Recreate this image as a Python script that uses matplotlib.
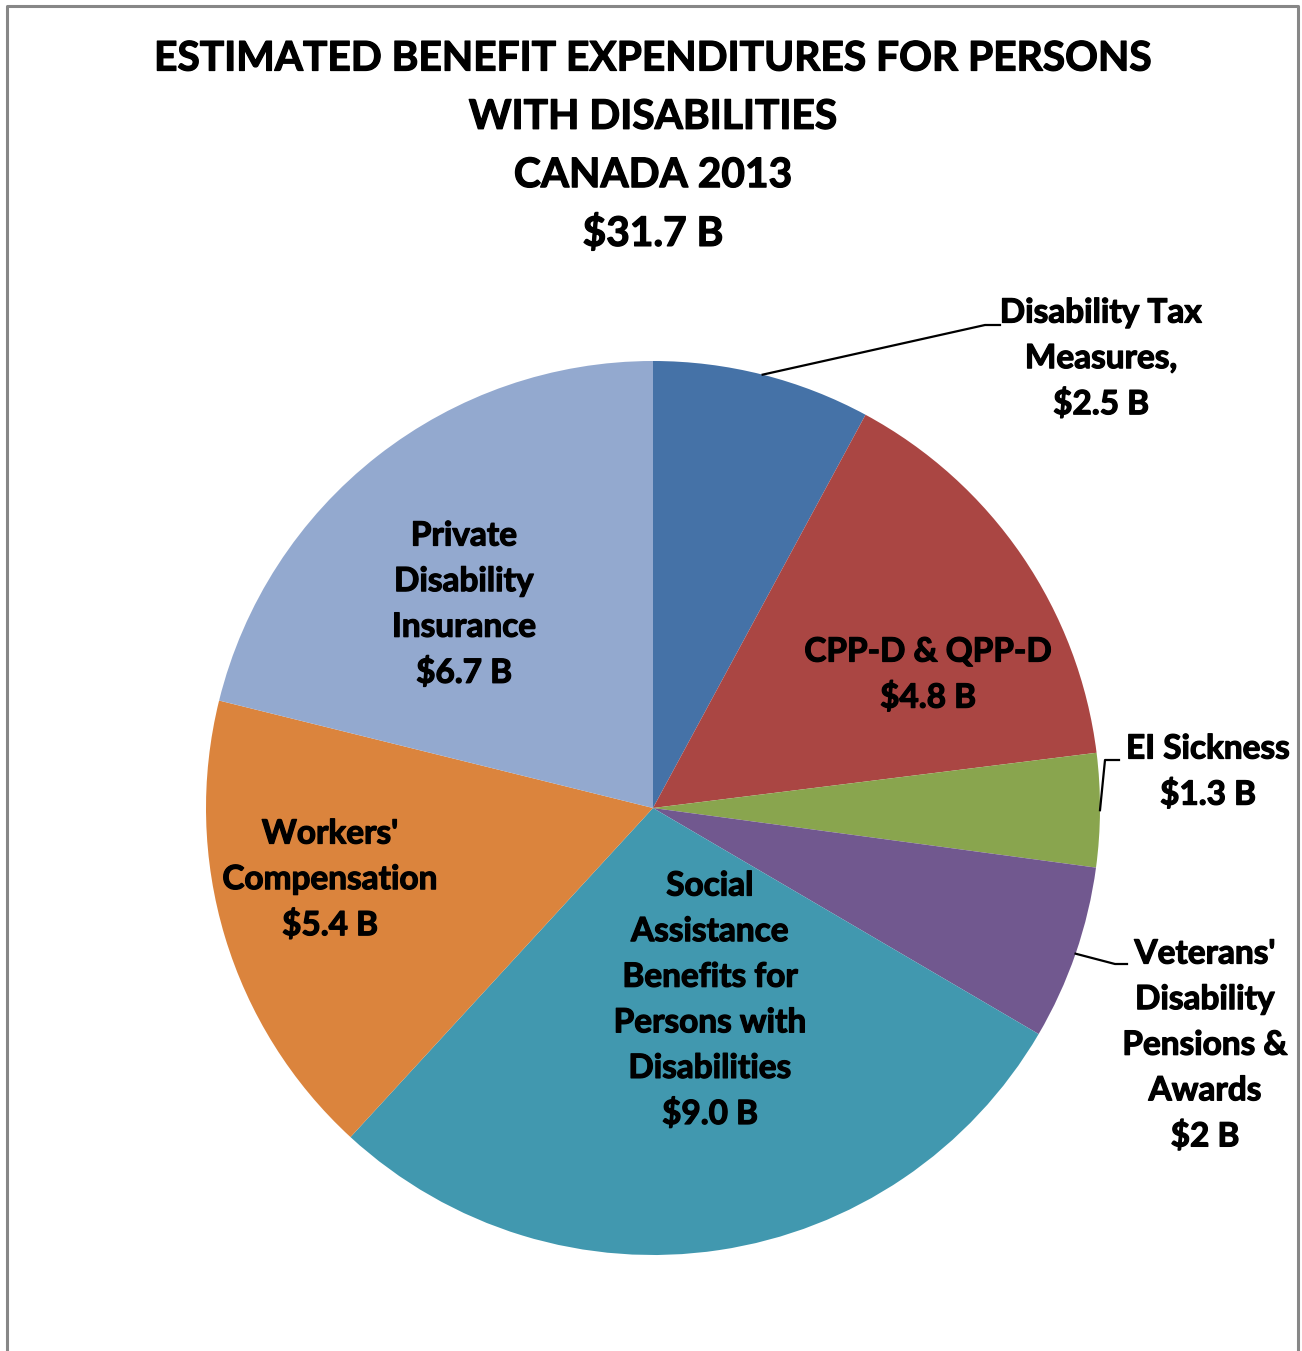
import matplotlib
matplotlib.use("Agg")
import matplotlib.pyplot as plt
import matplotlib.patheffects as pe
import numpy as np
from matplotlib.lines import Line2D

# ---- data ----
categories = [
    "Disability Tax\nMeasures,",
    "CPP-D & QPP-D",
    "EI Sickness",
    "Veterans'\nDisability\nPensions &\nAwards",
    "Social\nAssistance\nBenefits for\nPersons with\nDisabilities",
    "Workers'\nCompensation",
    "Private\nDisability\nInsurance",
]
values = [2.5, 4.8, 1.3, 2.0, 9.0, 5.4, 6.7]
decimals = [1, 1, 1, 0, 1, 1, 1]
colors = ["#4572A7", "#AA4643", "#89A54E", "#71588F", "#4198AF", "#DB843D", "#93A9CF"]
title_lines = ["ESTIMATED BENEFIT EXPENDITURES FOR PERSONS",
               "WITH DISABILITIES", "CANADA 2013"]

W, H = 1302, 1351
FONT = "Lato"
plt.rcParams["font.family"] = [FONT, "DejaVu Sans"]

fig = plt.figure(figsize=(W / 100, H / 100), dpi=100)

# slightly heavier glyph strokes
heavy = [pe.withStroke(linewidth=0.9, foreground="black")]


def fx(x):
    return x / W


def fy(y):
    return 1 - y / H


# outer frame (left, top, right)
frame = Line2D([fx(7), fx(7), fx(1298), fx(1298)], [0, fy(6), fy(6), 0],
               transform=fig.transFigure, color="#878787", lw=2.2)
fig.add_artist(frame)

# ---- pie ----
cx, cy, r = 653, 808, 447
ax = fig.add_axes([fx(cx - r), fy(cy + r), 2 * r / W, 2 * r / H])
wedges, _ = ax.pie(values, colors=colors, startangle=90, counterclock=False,
                   radius=1.0, wedgeprops=dict(linewidth=0))
ax.set_xlim(-1, 1)
ax.set_ylim(-1, 1)
ax.set_aspect("auto")
ax.axis("off")

total = sum(values)

# ---- title ----
TITLE_FS = 29.3
for i, line in enumerate(title_lines + [f"\\${total:.1f} B"]):
    fig.text(fx(653), fy(59 + i * 58.3), line, ha="center", va="center",
             fontsize=TITLE_FS, fontweight="bold", color="black",
             path_effects=heavy)

# ---- labels ----
LABEL_FS = 24
PITCH = 45.6
label_pos = [(1101, 313), (928, 652), (1208, 749), (1205, 954),
             (710, 886), (330, 834), (464, 536)]

for name, v, d, (lx, ly) in zip(categories, values, decimals, label_pos):
    lines = name.split("\n") + [f"\\${v:.{d}f} B"]
    for j, t in enumerate(lines):
        fig.text(fx(lx), fy(ly + j * PITCH), t, ha="center", va="center",
                 fontsize=LABEL_FS, fontweight="bold", color="black",
                 path_effects=heavy)


# ---- leader lines from wedge mid-angles ----
def edge_point(idx):
    start = sum(values[:idx])
    mid = (start + values[idx] / 2) / total * 2 * np.pi
    ang = np.pi / 2 - mid
    return cx + r * np.cos(ang), cy - r * np.sin(ang)


leaders = {0: [(985, 325), (1000, 325)],
           2: [(1105, 760), (1119, 760)],
           3: [(1115, 964), (1127, 964)]}
for idx, pts in leaders.items():
    x0, y0 = edge_point(idx)
    xs = [x0] + [p[0] for p in pts]
    ys = [y0] + [p[1] for p in pts]
    fig.add_artist(Line2D([fx(x) for x in xs], [fy(y) for y in ys],
                          transform=fig.transFigure, color="black", lw=1.6))

fig.savefig("out.png", dpi=100, facecolor="white")
